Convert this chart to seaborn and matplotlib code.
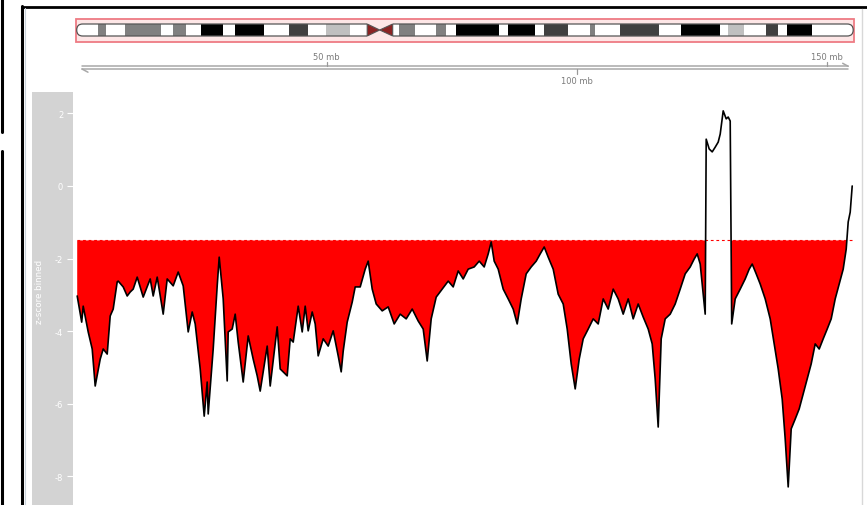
import numpy as np
import pandas as pd
import matplotlib
matplotlib.use("Agg")
import matplotlib.pyplot as plt
import seaborn as sns
from matplotlib.patches import Rectangle, FancyBboxPatch, Polygon
from matplotlib.lines import Line2D

sns.set_theme(style="white")
plt.rcParams['font.family'] = ['DejaVu Sans']
plt.rcParams['axes.unicode_minus'] = False

# ---------------- data ----------------
chrom_length = 155.3          # chrX, Mb
threshold = -1.5              # z-score cut-off for shading

# cytobands (Mb)
band_start = [0.0, 4.3, 5.9, 9.6, 16.9, 19.3, 21.8, 24.9, 29.3, 31.6, 37.4, 42.4,
              46.3, 49.9, 54.7, 58.1, 60.6, 63.2, 64.5, 67.6, 71.8, 73.9, 75.9,
              84.5, 86.3, 91.6, 93.5, 98.2, 102.6, 103.6, 108.7, 116.5, 120.9,
              128.6, 130.2, 133.5, 137.9, 140.3, 142.1, 147.1]
band_end = [4.3, 5.9, 9.6, 16.9, 19.3, 21.8, 24.9, 29.3, 31.6, 37.4, 42.4, 46.3,
            49.9, 54.7, 58.1, 60.6, 63.2, 64.5, 67.6, 71.8, 73.9, 75.9, 84.5,
            86.3, 91.6, 93.5, 98.2, 102.6, 103.6, 108.7, 116.5, 120.9, 128.6,
            130.2, 133.5, 137.9, 140.3, 142.1, 147.1, 155.3]
band_stain = ["gneg", "gpos50", "gneg", "gpos50", "gneg", "gpos50", "gneg", "gpos100",
              "gneg", "gpos100", "gneg", "gpos75", "gneg", "gpos25", "gneg", "acen",
              "acen", "gneg", "gpos50", "gneg", "gpos50", "gneg", "gpos100", "gneg",
              "gpos100", "gneg", "gpos75", "gneg", "gpos50", "gneg", "gpos75", "gneg",
              "gpos100", "gneg", "gpos25", "gneg", "gpos75", "gneg", "gpos100", "gneg"]

axis_ticks = [50, 100, 150]
axis_labels = ["50 mb", "100 mb", "150 mb"]

# binned z-score along the chromosome
pos_mb = [0.1, 1.0, 1.3, 2.3, 3.1, 3.7, 4.7, 5.3, 6.1, 6.7, 7.3, 8.1, 8.3, 9.3, 10.1,
          10.7, 11.3, 12.1, 13.3, 14.7, 15.3, 16.1, 17.3, 18.1, 19.3, 20.3, 21.3,
          22.3, 23.1, 23.7, 24.7, 25.5, 26.1, 26.3, 27.3, 28.1, 28.5, 29.3, 30.1,
          30.3, 31.1, 31.7, 32.3, 33.3, 34.3, 35.3, 36.1, 36.7, 37.3, 38.1, 38.7,
          40.1, 40.7, 42.1, 42.7, 43.3, 44.3, 45.1, 45.7, 46.3, 47.1, 47.7, 48.3,
          49.3, 50.3, 51.3, 52.3, 52.9, 53.3, 54.1, 55.1, 55.7, 56.7, 57.7, 58.3,
          59.1, 59.9, 61.1, 62.3, 63.5, 64.7, 65.9, 67.1, 68.3, 69.3, 70.1, 70.9,
          71.9, 73.1, 74.3, 75.3, 76.3, 77.3, 78.3, 79.5, 80.5, 81.5, 82.3, 82.9,
          83.5, 84.3, 85.3, 86.3, 87.3, 88.1, 88.9, 89.9, 90.9, 91.9, 92.7, 93.5,
          94.3, 95.3, 96.3, 97.3, 98.1, 98.9, 99.7, 100.5, 101.3, 102.3, 103.3,
          104.3, 105.3, 106.3, 107.3, 108.3, 109.3, 110.3, 111.3, 112.3, 113.3,
          114.3, 115.1, 115.7, 116.3, 116.9, 117.7, 118.7, 119.7, 120.7, 121.7,
          122.7, 123.5, 124.1, 124.7, 125.3, 125.7, 125.9, 126.5, 127.1, 127.7,
          128.3, 128.7, 129.3, 129.9, 130.3, 130.7, 131.0, 131.7, 132.7, 133.7,
          134.5, 135.1, 135.9, 136.7, 137.7, 138.7, 139.5, 140.3, 141.1, 141.7,
          142.3, 142.9, 143.7, 144.5, 145.3, 146.1, 146.9, 147.7, 148.5, 149.3,
          150.1, 150.9, 151.7, 152.5, 153.3, 153.9, 154.3, 154.7, 155.1]
zscore = [-3.03, -3.75, -3.31, -4.02, -4.49, -5.51, -4.77, -4.49, -4.63, -3.58, -3.39,
          -2.64, -2.62, -2.78, -3.03, -2.92, -2.84, -2.51, -3.06, -2.56, -3.03, -2.51,
          -3.53, -2.56, -2.75, -2.37, -2.75, -4.02, -3.47, -3.80, -5.04, -6.34, -5.40,
          -6.28, -4.49, -2.75, -1.96, -3.11, -5.37, -4.02, -3.94, -3.53, -4.30, -5.40,
          -4.13, -4.77, -5.23, -5.65, -5.12, -4.41, -5.51, -3.88, -5.04, -5.23, -4.21,
          -4.30, -3.31, -4.02, -3.31, -3.99, -3.47, -3.80, -4.68, -4.21, -4.41, -3.99,
          -4.68, -5.12, -4.55, -3.75, -3.20, -2.78, -2.78, -2.29, -2.07, -2.84, -3.25,
          -3.44, -3.33, -3.80, -3.53, -3.66, -3.39, -3.72, -3.94, -4.82, -3.66, -3.06,
          -2.84, -2.62, -2.78, -2.34, -2.56, -2.29, -2.23, -2.07, -2.23, -1.87, -1.54,
          -2.07, -2.29, -2.84, -3.11, -3.39, -3.80, -3.11, -2.42, -2.23, -2.07, -1.87,
          -1.68, -1.96, -2.29, -2.98, -3.25, -3.94, -4.90, -5.59, -4.77, -4.21, -3.94,
          -3.66, -3.80, -3.11, -3.39, -2.84, -3.11, -3.53, -3.11, -3.66, -3.25, -3.61,
          -3.94, -4.35, -5.32, -6.64, -4.21, -3.66, -3.53, -3.25, -2.84, -2.42, -2.23,
          -2.01, -1.87, -2.15, -2.98, -3.53, 1.29, 1.02, 0.94, 1.07, 1.21, 1.43, 2.07,
          1.85, 1.90, 1.79, -3.80, -3.11, -2.84, -2.56, -2.29, -2.15, -2.42, -2.70,
          -3.11, -3.66, -4.35, -5.04, -5.87, -6.97, -8.29, -6.69, -6.42, -6.14, -5.73,
          -5.32, -4.90, -4.35, -4.49, -4.21, -3.94, -3.66, -3.11, -2.70, -2.29, -1.74,
          -0.99, -0.72, 0.00]

y_ticks = [-8, -6, -4, -2, 0, 2]
y_label = "z-score binned"

# ---------------- layout helpers ----------------
W, H = 867, 506


def rect(x0, y0, x1, y1):
    return [x0 / W, 1 - y1 / H, (x1 - x0) / W, (y1 - y0) / H]


def fx(x):
    return x / W


def fy(y):
    return 1 - y / H


MB_PX = 5.0
ORIGIN_PX = 76.7
PLOT_L, PLOT_R = 74, 860
xlim = ((PLOT_L - ORIGIN_PX) / MB_PX, (PLOT_R - ORIGIN_PX) / MB_PX)
ZERO_PX, UNIT_PX = 187.0, 36.3
ylim = ((ZERO_PX - 506) / UNIT_PX, (ZERO_PX - 93) / UNIT_PX)

fig = plt.figure(figsize=(W / 100, H / 100), dpi=100)
fig.patch.set_facecolor("white")

# ---------------- ideogram ----------------
stain_color = {"gneg": "#ffffff", "gpos25": "#c0c0c0", "gpos50": "#808080",
               "gpos75": "#404040", "gpos100": "#000000", "acen": "#8b2323"}

ax_id = fig.add_axes(rect(PLOT_L, 15, PLOT_R, 47))
ax_id.set_xlim(*xlim)
ax_id.set_ylim(47, 15)
ax_id.axis("off")

ax_id.add_patch(Rectangle((-0.05, 19.5), chrom_length + 0.25, 23.5,
                          facecolor="#fde6e6", edgecolor="#ee7b84", lw=1.3, zorder=1))

outline = FancyBboxPatch((0, 25), chrom_length, 12,
                         boxstyle="round,pad=0,rounding_size=1.2",
                         mutation_aspect=5, facecolor="none",
                         edgecolor="#555555", lw=0.9, zorder=4)
ax_id.add_patch(outline)

bands = pd.DataFrame({"start": band_start, "end": band_end, "stain": band_stain})
for _, b in bands.iterrows():
    if b.stain == "acen":
        continue
    r = Rectangle((b.start, 25), b.end - b.start, 12,
                  facecolor=stain_color[b.stain], edgecolor="none", zorder=2)
    ax_id.add_patch(r)
    r.set_clip_path(outline)

acen = bands[bands.stain == "acen"]
c0, c1 = acen.start.min(), acen.end.max()
cm = acen.end.min()
ax_id.add_patch(Rectangle((c0, 24), c1 - c0, 14, facecolor="#fde6e6",
                          edgecolor="none", zorder=5))
ax_id.add_patch(Polygon([(c0, 25), (c0, 37), (cm, 31)], closed=True,
                        facecolor=stain_color["acen"], edgecolor="#555555",
                        lw=0.8, zorder=6))
ax_id.add_patch(Polygon([(c1, 25), (c1, 37), (cm, 31)], closed=True,
                        facecolor=stain_color["acen"], edgecolor="#555555",
                        lw=0.8, zorder=6))

# ---------------- genome axis ----------------
ax_ax = fig.add_axes(rect(PLOT_L, 47, PLOT_R, 92))
ax_ax.set_xlim(*xlim)
ax_ax.set_ylim(92, 47)
ax_ax.axis("off")
axis_col = "#a8a8a8"
a0, a1 = 1.05, chrom_length - 1.0
ax_ax.plot([a0, a1], [67.3, 67.3], color=axis_col, lw=1.1)
ax_ax.plot([a0, a1], [70.0, 70.0], color=axis_col, lw=1.1)
ax_ax.plot([a1, a1 - 1.1], [67.3, 64.3], color=axis_col, lw=1.1)
ax_ax.plot([a0, a0 + 1.2], [70.0, 73.2], color=axis_col, lw=1.1)
for i, (t, lab) in enumerate(zip(axis_ticks, axis_labels)):
    if i % 2 == 0:
        ax_ax.plot([t, t], [67.3, 62.8], color="#999999", lw=0.9)
        ax_ax.text(t, 57.5, lab, ha="center", va="center", fontsize=6, color="#7a7a7a")
    else:
        ax_ax.plot([t, t], [70.0, 74.5], color="#999999", lw=0.9)
        ax_ax.text(t, 81.5, lab, ha="center", va="center", fontsize=6, color="#7a7a7a")

# ---------------- title strip ----------------
ax_st = fig.add_axes(rect(32, 93, 73, 506))
ax_st.set_facecolor("#d3d3d3")
ax_st.set_ylim(*ylim)
ax_st.set_xticks([])
ax_st.set_yticks(y_ticks)
ax_st.set_yticklabels([str(t) for t in y_ticks])
for s in ax_st.spines.values():
    s.set_visible(False)
ax_st.tick_params(axis="y", left=False, right=True, direction="in", length=4,
                  width=0.8, color="white", labelleft=True, labelright=False,
                  labelcolor="white", labelsize=6, pad=-22.5)
fig.text(fx(40), fy(292), y_label, rotation=90, color="white", fontsize=6.3,
         ha="center", va="center")

# ---------------- data track ----------------
ax = fig.add_axes(rect(PLOT_L, 93, PLOT_R, 506))
ax.set_xlim(*xlim)
ax.set_ylim(*ylim)
ax.set_facecolor("white")
for s in ax.spines.values():
    s.set_visible(False)
ax.set_xticks([])
ax.set_yticks([])

df = pd.DataFrame({"pos": pos_mb, "z": zscore})
x = df["pos"].to_numpy()
z = df["z"].to_numpy()
ax.hlines(threshold, x[0], x[-1], colors="red", linestyles=(0, (2.5, 2.5)),
          lw=0.8, zorder=1)
ax.fill_between(x, z, threshold, where=z < threshold, interpolate=True,
                color="#ff0000", lw=0, zorder=2)
sns.lineplot(data=df, x="pos", y="z", color="black", lw=1.2, estimator=None,
             sort=False, ax=ax, zorder=3)
ax.set_xlabel("")
ax.set_ylabel("")
ax.set_xlim(*xlim)
ax.set_ylim(*ylim)

# ---------------- frame ----------------
def fline(xs, ys, **kw):
    fig.add_artist(Line2D([fx(v) for v in xs], [fy(v) for v in ys],
                          transform=fig.transFigure, **kw))


fline([1.5, 1.5], [0, 133], color="black", lw=2.2)
fline([1.5, 1.5], [152, 506], color="black", lw=2.2)
fline([22, 22], [7, 506], color="black", lw=2.2)
fline([22, 867], [7.5, 7.5], color="black", lw=2.0)
fline([24.5, 24.5], [9, 506], color="#c9d3dc", lw=0.8)
fline([862, 862], [10, 506], color="#d8d8d8", lw=1.0)

fig.savefig("out.png", dpi=100, facecolor="white")
